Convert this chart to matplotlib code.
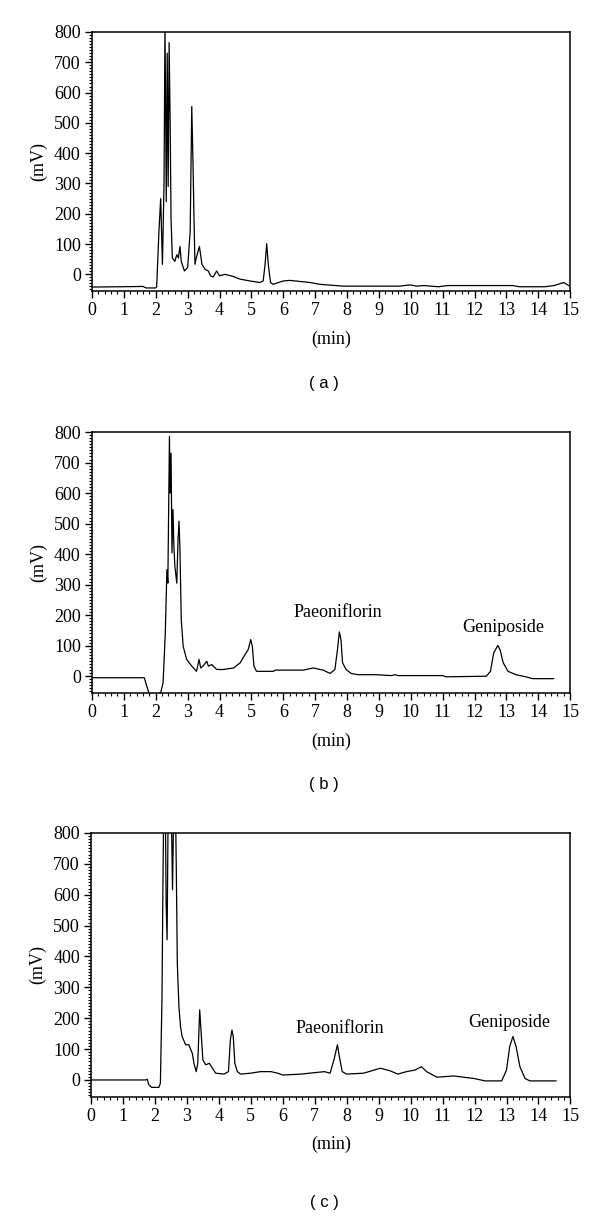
import matplotlib.pyplot as plt
from matplotlib.ticker import MultipleLocator

plt.rcParams['font.family'] = ['Liberation Serif', 'DejaVu Serif']

# panel (a) trace (min, mV)
t_a = [0, 0.9, 1.6, 1.7, 2.0, 2.03, 2.1, 2.155, 2.21, 2.26, 2.29, 2.33, 2.36, 2.39, 2.42, 2.45,
       2.48, 2.52, 2.6, 2.66, 2.71, 2.76, 2.8, 2.9, 3.0, 3.08, 3.13, 3.17, 3.2, 3.23, 3.27, 3.37,
       3.45, 3.55, 3.65, 3.72, 3.8, 3.91, 4.0, 4.17, 4.43, 4.65, 4.96, 5.27, 5.37, 5.43, 5.48,
       5.53, 5.6, 5.68, 6.0, 6.2, 6.84, 7.15, 7.88, 9.66, 9.97, 10.2, 10.4, 10.86, 11.17, 13.2,
       13.4, 14.2, 14.5, 14.8, 14.97, 15.0]
mv_a = [-42, -41, -40, -45, -45, -40, 141, 250, 33, 300, 830, 240, 730, 290, 765, 520,
        185, 54, 43, 65, 54, 92, 43, 11, 22, 141, 554, 359, 185, 33, 54, 92,
        33, 16, 11, -5, -9, 11, -5, 0, -7, -16, -22, -27, -22, 33, 101,
        33, -27, -33, -22, -20, -27, -33, -39, -39, -35, -39, -37, -41, -37, -37,
        -41, -41, -37, -27, -38, -40]

# panel (b) trace
t_b = [0, 1.64, 1.72, 1.8, 2.1, 2.16, 2.23, 2.3, 2.35, 2.38, 2.43, 2.45, 2.48, 2.51, 2.54, 2.57,
       2.6, 2.66, 2.7, 2.73, 2.76, 2.8, 2.86, 2.97, 3.13, 3.28, 3.36, 3.41, 3.48, 3.6, 3.65,
       3.76, 3.91, 4.12, 4.44, 4.65, 4.8, 4.9, 4.98, 5.03, 5.08, 5.16, 5.69, 5.75, 6.63, 6.94,
       7.25, 7.47, 7.62, 7.7, 7.76, 7.81, 7.86, 7.97, 8.13, 8.34, 8.91, 9.4, 9.5, 9.6, 11.0,
       11.1, 12.37, 12.5, 12.6, 12.73, 12.8, 12.9, 13.05, 13.3, 13.61, 13.82, 14.48]
mv_b = [-5, -5, -33, -60, -60, -52, -22, 142, 349, 305, 786, 600, 731, 404, 546, 425,
        360, 305, 448, 508, 415, 186, 98, 55, 33, 16, 55, 27, 33, 49, 33,
        38, 22, 22, 27, 44, 71, 87, 120, 98, 33, 16, 16, 20, 20, 27,
        20, 9, 22, 87, 145, 120, 44, 22, 9, 5, 5, 2, 5, 2, 2,
        -2, 0, 16, 76, 101, 87, 44, 16, 5, -2, -8, -8]

# panel (c) trace
t_c = [0, 1.7, 1.76, 1.81, 1.9, 2.12, 2.17, 2.22, 2.25, 2.27, 2.33, 2.35, 2.38, 2.41, 2.52,
       2.55, 2.58, 2.65, 2.67, 2.7, 2.75, 2.8, 2.85, 2.96, 3.06, 3.17, 3.22, 3.29, 3.34, 3.4,
       3.44, 3.5, 3.59, 3.7, 3.8, 3.9, 4.16, 4.3, 4.36, 4.41, 4.45, 4.5, 4.58, 4.68, 5.0,
       5.3, 5.63, 5.84, 6.0, 6.57, 7.3, 7.48, 7.6, 7.71, 7.77, 7.86, 8.0, 8.53, 9.05, 9.35,
       9.6, 9.87, 10.13, 10.34, 10.5, 10.82, 11.34, 11.97, 12.33, 12.85, 13.0, 13.1, 13.2,
       13.3, 13.42, 13.58, 13.73, 14.55]
mv_c = [0, 0, 2, -16, -24, -24, -11, 260, 638, 830, 830, 573, 454, 830, 830,
        616, 830, 830, 670, 378, 238, 173, 141, 114, 114, 86, 54, 27, 54, 227,
        162, 65, 49, 54, 38, 22, 19, 27, 130, 162, 141, 54, 27, 19, 22,
        27, 27, 22, 16, 19, 27, 22, 65, 114, 76, 27, 19, 22, 38, 30,
        19, 27, 32, 43, 27, 9, 13, 5, -3, -3, 32, 108, 141,
        108, 43, 5, -3, -3]

panels = [(t_a, mv_a, '( a )'), (t_b, mv_b, '( b )'), (t_c, mv_c, '( c )')]

# compound labels: (text, min, mV) for panels b and c
labels_b = [('Paeoniflorin', 7.71, 209), ('Geniposide', 12.9, 160)]
labels_c = [('Paeoniflorin', 7.8, 168), ('Geniposide', 13.1, 185)]
annots = [[], labels_b, labels_c]

fig = plt.figure(figsize=(6, 12.16), dpi=100)

# axes boxes in figure fractions
boxes = [[0.1533, 0.7607, 0.797, 0.2130],
         [0.1533, 0.4301, 0.797, 0.2146],
         [0.1517, 0.0979, 0.799, 0.2171]]
label_y = [0.685, 0.355, 0.011]

for i, (t, mv, tag) in enumerate(panels):
    ax = fig.add_axes(boxes[i])
    ax.plot(t, mv, color='black', lw=0.9)
    ax.set_xlim(0, 15)
    ax.set_ylim(-55, 800)
    ax.xaxis.set_major_locator(MultipleLocator(1))
    ax.xaxis.set_minor_locator(MultipleLocator(0.2))
    ax.yaxis.set_major_locator(MultipleLocator(100))
    ax.yaxis.set_minor_locator(MultipleLocator(10))
    ax.tick_params(which='both', direction='out', top=False, right=False, labelsize=13)
    ax.tick_params(which='major', length=5, width=1, pad=3)
    ax.tick_params(which='minor', length=2.5, width=0.8)
    for s in ax.spines.values():
        s.set_linewidth(1.1)
    ax.set_ylabel('(mV)', fontsize=13, labelpad=5)
    ax.set_xlabel('(min)', fontsize=13, labelpad=8)
    for txt, x, y in annots[i]:
        ax.text(x, y, txt, fontsize=13, ha='center', va='center')
    fig.text(0.5 + 0.04, label_y[i], tag, ha='center', va='center',
             fontsize=12, family=['Liberation Sans', 'DejaVu Sans'])

fig.savefig('out.png', dpi=100)
